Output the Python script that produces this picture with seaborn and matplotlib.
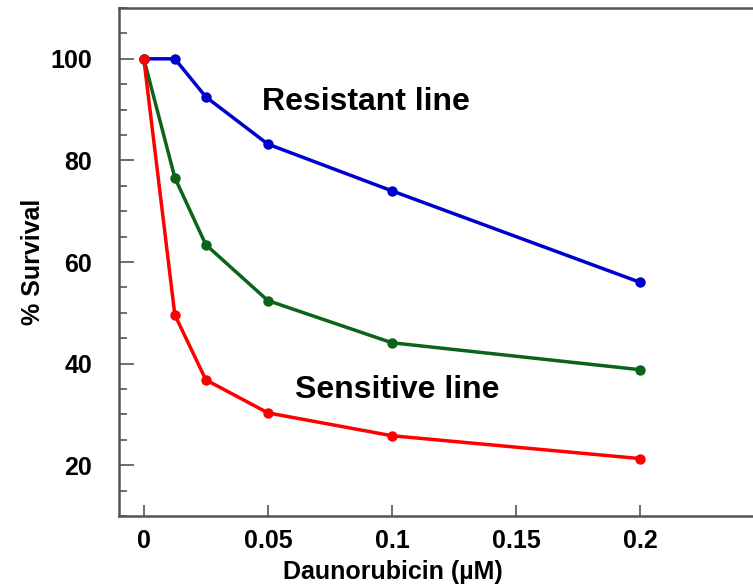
"""
Daunorubicin dose-response: % survival of resistant vs sensitive lines.
"""

import pandas as pd
import matplotlib.pyplot as plt
from matplotlib.ticker import MultipleLocator
import seaborn as sns

# ----------------------------------------------------------------------
# Data
# ----------------------------------------------------------------------
DOSE = [0, 0.0125, 0.025, 0.05, 0.1, 0.2]
RESISTANT = [100, 100, 92.5, 83.2, 74.0, 56.0]
MIDDLE = [100, 76.6, 63.4, 52.4, 44.1, 38.8]
SENSITIVE = [100, 49.6, 36.8, 30.3, 25.8, 21.3]

SERIES = ["Resistant", "Middle", "Sensitive"]
COLORS = ["#0000cc", "#0b6418", "#ff0000"]

X_TICKS = [0, 0.05, 0.1, 0.15, 0.2]
X_TICK_LABELS = ["0", "0.05", "0.1", "0.15", "0.2"]
Y_TICKS = [20, 40, 60, 80, 100]


def build_frame():
    """Long-form table so seaborn can colour by series."""
    rows = []
    for name, values in zip(SERIES, [RESISTANT, MIDDLE, SENSITIVE]):
        for d, v in zip(DOSE, values):
            rows.append({"dose": d, "survival": v, "line": name})
    return pd.DataFrame(rows)


def main():
    sns.set_style("ticks")
    plt.rcParams["font.family"] = ["Liberation Sans", "DejaVu Sans"]
    plt.rcParams["font.weight"] = "bold"
    plt.rcParams["text.color"] = "black"
    plt.rcParams["axes.labelcolor"] = "black"

    df = build_frame()

    fig = plt.figure(figsize=(7.53, 5.87), dpi=100)
    ax = fig.add_axes([119 / 753, 1 - 516 / 587, 1 - 119 / 753, (516 - 8) / 587])

    sns.lineplot(
        data=df,
        x="dose",
        y="survival",
        hue="line",
        hue_order=SERIES,
        palette=COLORS,
        marker="o",
        markersize=7.5,
        markeredgewidth=0,
        linewidth=2.5,
        legend=False,
        ax=ax,
    )

    ax.set_xlim(-0.01, 0.2455)
    ax.set_ylim(10, 110)

    ax.set_xticks(X_TICKS)
    ax.set_xticklabels(X_TICK_LABELS)
    ax.set_yticks(Y_TICKS)
    ax.yaxis.set_minor_locator(MultipleLocator(5))

    ax.tick_params(axis="both", which="major", direction="in", length=8,
                   width=1.2, color="#555555", labelsize=18,
                   labelcolor="black", pad=9)
    ax.tick_params(axis="y", which="major", length=11, pad=19.5)
    ax.tick_params(axis="y", which="minor", direction="in", length=6,
                   width=1.2, color="#555555")

    for side in ["left", "bottom", "top"]:
        ax.spines[side].set_color("#555555")
        ax.spines[side].set_linewidth(1.8)
    ax.spines["right"].set_visible(False)

    ax.set_xlabel("Daunorubicin (\u00b5M)", fontsize=18, fontweight="bold",
                  labelpad=7)
    ax.xaxis.set_label_coords(0.432, -0.087)
    ax.set_ylabel("% Survival", fontsize=18, fontweight="bold", labelpad=4)

    ax.text(0.0475, 91.5, "Resistant line", fontsize=23, fontweight="bold",
            va="center", ha="left")
    ax.text(0.061, 34.8, "Sensitive line", fontsize=23, fontweight="bold",
            va="center", ha="left")

    fig.savefig("out.png", dpi=100)
    plt.close(fig)


if __name__ == "__main__":
    main()
